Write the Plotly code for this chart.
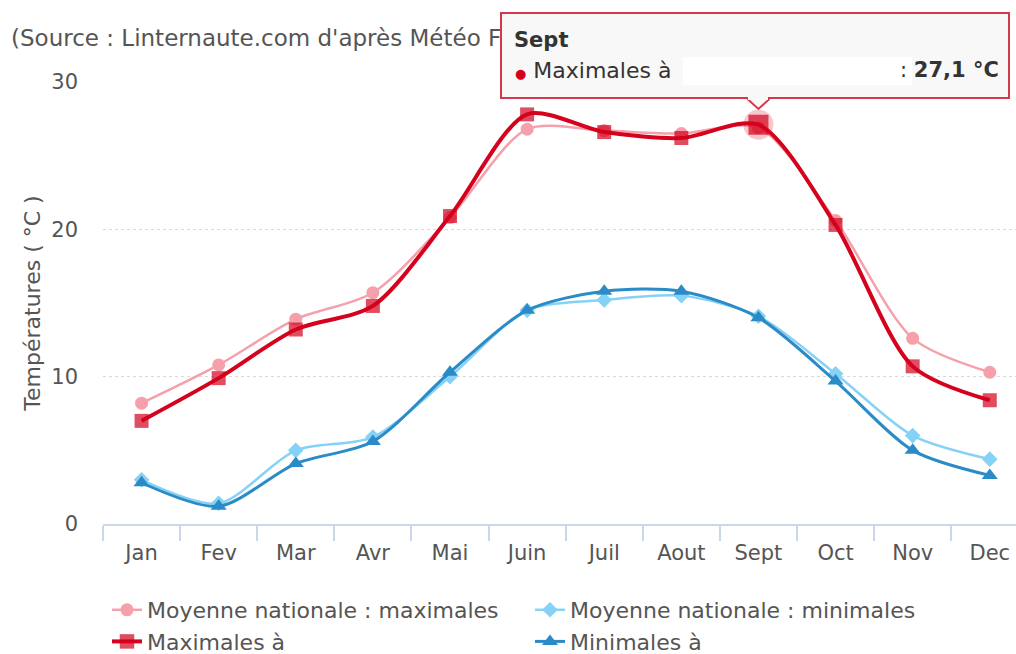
import plotly.graph_objects as go

# Monthly temperature normals (°C)
months = ["Jan", "Fev", "Mar", "Avr", "Mai", "Juin", "Juil", "Aout", "Sept", "Oct", "Nov", "Dec"]
nat_max = [8.2, 10.8, 13.9, 15.7, 20.8, 26.8, 26.7, 26.5, 26.9, 20.6, 12.6, 10.3]
nat_min = [3.0, 1.4, 5.0, 5.9, 10.0, 14.5, 15.2, 15.5, 14.1, 10.2, 6.0, 4.4]
loc_max = [7.0, 9.9, 13.2, 14.8, 20.9, 27.8, 26.6, 26.2, 27.1, 20.3, 10.7, 8.4]
loc_min = [2.8, 1.2, 4.1, 5.6, 10.3, 14.5, 15.8, 15.8, 14.0, 9.7, 5.0, 3.3]
y_ticks = [0, 10, 20, 30]

name_nat_max = "Moyenne nationale : maximales"
name_nat_min = "Moyenne nationale : minimales"
name_loc_max = "Maximales à"
name_loc_min = "Minimales à"
source_text = "(Source : Linternaute.com d'après Météo France)"
y_title = "Températures ( °C )"

hover_month = "Sept"
hover_idx = months.index(hover_month)

PINK = "#f5a0aa"
RED = "#d4021d"
LIGHT_BLUE = "#86d2f6"
DARK_BLUE = "#2a8bc6"
TEXT = "#555555"
TIP_BG = "#f8f8f8"
TIP_BORDER = "#d23a4c"
FONT = "DejaVu Sans"

W, H = 1016, 654
L, R, T, B = 103, 0, 82, 130
PW, PH = W - L - R, H - T - B
X_RANGE = [-0.5, 11.34]
NO_OUTLINE = dict(width=0)


def px(xp):
    return (xp - L) / PW


def py(yp):
    return (H - B - yp) / PH


fig = go.Figure()

fig.add_trace(go.Scatter(
    x=months, y=nat_max, name=name_nat_max, mode="lines+markers",
    line=dict(color=PINK, width=2.5, shape="spline", smoothing=0.8),
    marker=dict(symbol="circle", size=13, color=PINK, line=NO_OUTLINE),
    legend="legend",
))
fig.add_trace(go.Scatter(
    x=months, y=nat_min, name=name_nat_min, mode="lines+markers",
    line=dict(color=LIGHT_BLUE, width=2.5, shape="spline", smoothing=0.8),
    marker=dict(symbol="diamond", size=12, color=LIGHT_BLUE, line=NO_OUTLINE),
    legend="legend2",
))
# halo around the hovered point
fig.add_trace(go.Scatter(
    x=[hover_month], y=[loc_max[hover_idx]], mode="markers",
    marker=dict(symbol="circle", size=30, color="rgba(212,2,29,0.22)", line=NO_OUTLINE),
    showlegend=False, hoverinfo="skip",
))
fig.add_trace(go.Scatter(
    x=months, y=loc_max, name=name_loc_max, mode="lines+markers",
    line=dict(color=RED, width=4, shape="spline", smoothing=0.8),
    marker=dict(symbol="square", color=RED, line=NO_OUTLINE,
                size=[20 if i == hover_idx else 14 for i in range(len(months))]),
    legend="legend",
))
fig.add_trace(go.Scatter(
    x=months, y=loc_min, name=name_loc_min, mode="lines+markers",
    line=dict(color=DARK_BLUE, width=3, shape="spline", smoothing=0.8),
    marker=dict(symbol="triangle-up", size=14, color=DARK_BLUE, line=NO_OUTLINE),
    legend="legend2",
))

# tooltip pointer (the box itself is an annotation so it sits over the source line)
shapes = [
    dict(type="path", xref="x", yref="paper", xsizemode="pixel", ysizemode="pixel",
         xanchor=hover_idx, yanchor=py(99),
         path="M -12,0 L 0,-10 L 12,0 Z", fillcolor=TIP_BG,
         line=dict(width=0), layer="above"),
    dict(type="path", xref="x", yref="paper", xsizemode="pixel", ysizemode="pixel",
         xanchor=hover_idx, yanchor=py(99),
         path="M -11,0 L 0,-10 L 11,0", line=dict(color=TIP_BORDER, width=2),
         layer="above"),
]

value_txt = f"{loc_max[hover_idx]:.1f}".replace(".", ",")
tip_x0, tip_x1, tip_y0, tip_y1 = 500, 1010, 12, 99
hover_px = L + (hover_idx - X_RANGE[0]) * PW / (X_RANGE[1] - X_RANGE[0])
annotations = [
    dict(text=source_text, xref="paper", yref="paper", x=px(9), y=py(38),
         xanchor="left", yanchor="middle", showarrow=False,
         font=dict(size=23, color=TEXT, family=FONT)),
    # tooltip box
    dict(text=" ", xref="paper", yref="paper",
         x=px((tip_x0 + tip_x1) / 2), y=py((tip_y0 + tip_y1) / 2),
         xanchor="center", yanchor="middle", showarrow=False,
         width=tip_x1 - tip_x0 - 4, height=tip_y1 - tip_y0 - 4, borderpad=0,
         bgcolor=TIP_BG, bordercolor=TIP_BORDER, borderwidth=2),
    # opening of the box border where the pointer joins
    dict(text=" ", xref="paper", yref="paper", x=px(hover_px), y=py(tip_y1 - 1),
         xanchor="center", yanchor="middle", showarrow=False,
         width=20, height=4, borderpad=0, bgcolor=TIP_BG, borderwidth=0),
    # redacted place name
    dict(text=" ", xref="paper", yref="paper", x=px(683), y=py(71),
         xanchor="left", yanchor="middle", showarrow=False,
         width=229, height=28, borderpad=0, bgcolor="#ffffff", borderwidth=0),
    dict(text=f"<b>{hover_month}</b>", xref="paper", yref="paper", x=px(512), y=py(40),
         xanchor="left", yanchor="middle", showarrow=False,
         font=dict(size=21, color="#333333", family=FONT)),
    dict(text=f"<span style='color:{RED};font-size:13px'>●</span> {name_loc_max}",
         xref="paper", yref="paper",
         x=px(513), y=py(70), xanchor="left", yanchor="middle", showarrow=False,
         font=dict(size=22, color="#333333", family=FONT)),
    dict(text=f": <b>{value_txt} °C</b>", xref="paper", yref="paper", x=px(1001), y=py(70),
         xanchor="right", yanchor="middle", showarrow=False,
         font=dict(size=21, color="#333333", family=FONT)),
]

fig.update_layout(
    width=W, height=H,
    margin=dict(l=L, r=R, t=T, b=B, pad=0, autoexpand=False),
    paper_bgcolor="white", plot_bgcolor="white",
    font=dict(family=FONT, size=21, color=TEXT),
    shapes=shapes, annotations=annotations,
    hovermode=False,
    legend=dict(x=px(107), y=py(589), xanchor="left", yanchor="top",
                orientation="v", font=dict(size=22, color=TEXT),
                bgcolor="rgba(0,0,0,0)", tracegroupgap=0, itemwidth=30),
    legend2=dict(x=px(530), y=py(589), xanchor="left", yanchor="top",
                 orientation="v", font=dict(size=22, color=TEXT),
                 bgcolor="rgba(0,0,0,0)", tracegroupgap=0, itemwidth=30),
    xaxis=dict(type="category", range=X_RANGE, tickson="boundaries",
               ticks="outside", ticklen=15, tickcolor="#ccd6eb", tickwidth=1.5,
               showline=True, linecolor="#ccd6eb", linewidth=1.5,
               showgrid=False, zeroline=False, ticklabelstandoff=9,
               tickfont=dict(size=21, color=TEXT, family=FONT)),
    yaxis=dict(range=[0, 30], tickvals=y_ticks,
               showgrid=True, gridcolor="#d9d9d9",
               griddash="dot", gridwidth=1, zeroline=False, showline=False,
               ticks="", ticklabelstandoff=24,
               tickfont=dict(size=21, color=TEXT, family=FONT),
               title=dict(text=y_title, standoff=4,
                          font=dict(size=22, color=TEXT, family=FONT))),
)

fig.write_html("out.html")
